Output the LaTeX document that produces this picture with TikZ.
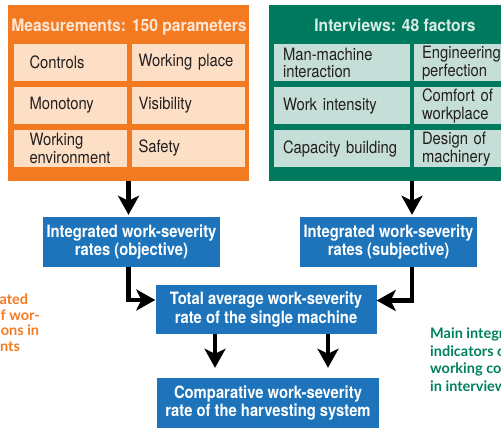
\documentclass[tikz,border=0pt]{standalone}
\usepackage{fontspec}
\setmainfont{TeX Gyre Heros}[FakeStretch=0.87]
\newfontfamily\headfont{TeX Gyre Heros}[FakeStretch=0.92]
\newfontfamily\notefont{Lato}
\usepackage{xcolor}
\usetikzlibrary{arrows.meta,positioning}

\definecolor{measorange}{HTML}{F37A21}
\definecolor{measpeach}{HTML}{FDDFC6}
\definecolor{meashead}{HTML}{FDE6D4}
\definecolor{intgreen}{HTML}{007A5E}
\definecolor{intpale}{HTML}{C5DED7}
\definecolor{inthead}{HTML}{D7ECE5}
\definecolor{rateblue}{HTML}{1D74BB}
\definecolor{celltext}{HTML}{231F20}
\definecolor{notegreen}{HTML}{00805D}

\tikzset{
  panel/.style={minimum width=#1,minimum height=176pt,inner sep=0pt},
  panelhead/.style={font=\headfont\bfseries\fontsize{17}{18}\selectfont,inner sep=0pt,anchor=base},
  cell/.style 2 args={text width=#1,inner xsep=#2,inner ysep=0pt,minimum height=37pt,align=left,
    font=\fontsize{17}{17.5}\selectfont,text=celltext},
  rate/.style={fill=rateblue,text=white,align=center,inner sep=0pt,
    font=\bfseries\fontsize{17}{18.3}\selectfont},
  note/.style={font=\notefont\bfseries\fontsize{14.5}{17.5}\selectfont,align=left,inner sep=0pt},
  flow/.style={-{Stealth[length=19pt,width=21pt,inset=5pt]},line width=4.5pt}
}

\begin{document}
\begin{tikzpicture}[x=1pt,y=-1pt,node distance=43pt]
  \useasboundingbox (0,0) rectangle (501,430);
  \clip (0,0) rectangle (501,430);

  \node[panel=241pt,fill=measorange]	(meas)		at (128.5,93)	{};
  \node[panel=286pt,fill=intgreen]	(intv)		at (412,93)	{};
  \node[panelhead,text=meashead]		(meashead)	at (129,31.5)	{Measurements: 150 parameters};
  \node[panelhead,text=inthead]		(intvhead)	at (395,31.5)	{Interviews: 48 factors};

  \node[cell={81pt}{16pt},fill=measpeach]	(ctrl)					at (70,62.5)	{Controls};
  \node[cell={99pt}{7pt},fill=measpeach]	(place)	[right of=ctrl,node distance=118pt]	{Working place};
  \node[cell={81pt}{16pt},fill=measpeach]	(mono)	[below of=ctrl]			{Monotony};
  \node[cell={99pt}{7pt},fill=measpeach]	(visib)	[below of=place]		{Visibility};
  \node[cell={81pt}{16pt},fill=measpeach]	(envir)	[below of=mono]			{Working\\environment};
  \node[cell={99pt}{7pt},fill=measpeach]	(safety)	[below of=visib]		{Safety};

  \node[cell={118pt}{9pt},fill=intpale]	(mmi)					at (342,63)	{Man-machine\\interaction};
  \node[cell={120pt}{8pt},fill=intpale]	(engin)	[right of=mmi,node distance=140pt]	{Engineering\\perfection};
  \node[cell={118pt}{9pt},fill=intpale]	(wint)	[below of=mmi]			{Work intensity};
  \node[cell={120pt}{8pt},fill=intpale]	(comfort)	[below of=engin]		{Comfort of\\workplace};
  \node[cell={118pt}{9pt},fill=intpale]	(capac)	[below of=wint]			{Capacity building};
  \node[cell={120pt}{8pt},fill=intpale]	(design)	[below of=comfort]		{Design of\\machinery};

  \node[rate,minimum width=177pt,minimum height=50pt]	(obj)	at (131.5,242)	{Integrated work-severity\\rates (objective)};
  \node[rate,minimum width=177pt,minimum height=50pt]	(subj)	at (388.5,242)	{Integrated work-severity\\rates (subjective)};
  \node[rate,minimum width=221pt,minimum height=49pt]	(total)	at (266,309.5)	{Total average work-severity\\rate of the single machine};
  \node[rate,minimum width=222pt,minimum height=50pt]	(comp)	at (268,403)	{Comparative work-severity\\rate of the harvesting system};

  \node[note,text=measorange,anchor=north east,font=\notefont\bfseries\fontsize{14.5}{15.5}\selectfont]
		(measnote)	at (40,294)	{Main integrated\\indicators of wor-\\king conditions in\\measurements};
  \node[note,text=notegreen,anchor=north west]	(intvnote)	at (430,328)	{Main integrated\\indicators of\\working conditions\\in interviews};

  \coordinate (intoL) at ([yshift=9.5pt]total.west);
  \coordinate (intoR) at ([yshift=9pt]total.east);
  \coordinate (outL) at ([xshift=-51pt]total.south);
  \coordinate (outR) at ([xshift=62pt]total.south);

  \draw[flow,shorten >=2pt]	(meas.south) -- (meas.south |- obj.north);
  \draw[flow,shorten >=2pt]	(intv.south) -- (intv.south |- subj.north);
  \draw[flow]	(obj.south -| meas.south) |- (intoL);
  \draw[flow]	(subj.south -| intv.south) |- (intoR);
  \draw[flow,shorten >=10pt]	(outL) -- (outL |- comp.north);
  \draw[flow,shorten >=10pt]	(outR) -- (outR |- comp.north);
\end{tikzpicture}
\end{document}
